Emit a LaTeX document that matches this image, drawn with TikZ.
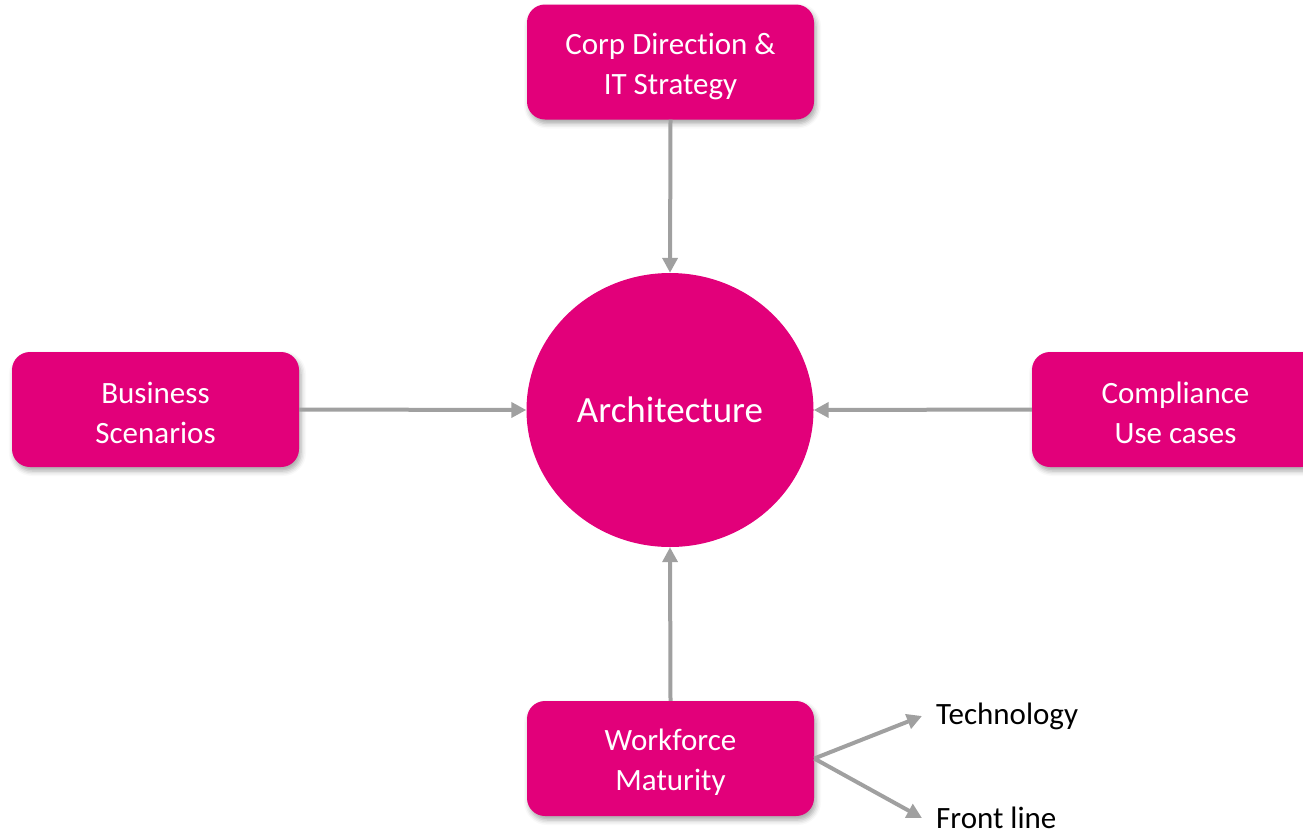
\documentclass[tikz,border=0pt]{standalone}
\usepackage{fontspec}
\setmainfont{Carlito}[Ligatures={TeX,NoCommon}]
\usetikzlibrary{arrows.meta,shapes.geometric,shadows.blur}
\definecolor{mag}{HTML}{E2007A}
\definecolor{arr}{HTML}{A0A0A0}
\tikzset{
  pbox/.style={draw=none, fill=mag, rounded corners=18pt, minimum width=287pt, minimum height=115pt,
    inner sep=0pt,
    blur shadow={shadow xshift=2pt, shadow yshift=-4pt, shadow blur radius=5pt, shadow opacity=35}},
  boxtxt/.style={text=white, align=center, font=\fontsize{31}{40}\selectfont, inner sep=0pt},
  hub/.style={ellipse, fill=mag, minimum width=287pt, minimum height=274pt, inner sep=0pt,
    text=white, font=\fontsize{37}{44}\selectfont},
  conn/.style={draw=arr, line width=4pt, -{Triangle[length=15pt,width=15pt]}},
  lbl/.style={anchor=west, inner xsep=14pt, inner ysep=0pt, font=\fontsize{31}{38}\selectfont, text=black}
}
\begin{document}
\begin{tikzpicture}[x=1pt,y=-1pt]
\useasboundingbox (0,0) rectangle (1303,836);
\node[hub] (arch) at (670,410) {Architecture};
\node[pbox] (corp) at (670.5,62) {};
\node[boxtxt] (corpt) at (670.5,66) {Corp Direction \&\\IT Strategy};
\node[pbox] (bus) at (155.5,409.5) {};
\node[boxtxt] (bust) at (155.5,413) {Business\\Scenarios};
\node[pbox] (comp) at (1175.5,409.5) {};
\node[boxtxt] (compt) at (1175.5,413) {Compliance\\Use cases};
\node[pbox] (work) at (670.5,758.5) {};
\node[boxtxt] (workt) at (670.5,762) {Workforce\\Maturity};
\node[lbl] (tech) at (922,716) {Technology};
\node[lbl] (front) at (922,818) {Front line};
\draw[conn] (corp.south) -- (arch.north);
\draw[conn] (bus.east) -- (arch.west);
\draw[conn] (comp.west) -- (arch.east);
\draw[conn] (work.north) -- (arch.south);
\draw[conn] (work.east) -- (tech.west);
\draw[conn] (work.east) -- (front.west);
\end{tikzpicture}
\end{document}
